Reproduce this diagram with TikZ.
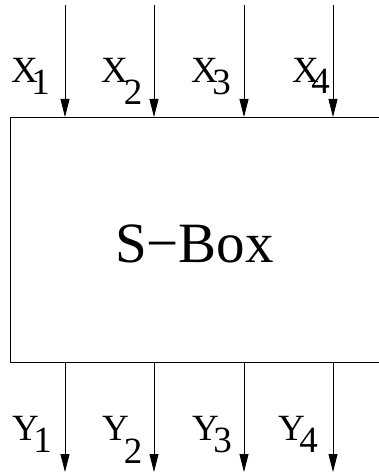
\documentclass[tikz,border=0pt]{standalone}
\usepackage{fontspec}
\setmainfont{Liberation Serif}
\usetikzlibrary{arrows.meta}
\newcommand\sublab[4]{#1\kern#3pt\raisebox{-#4pt}{#2}}
\begin{document}
\begin{tikzpicture}[x=1pt,y=-1pt,
  wire/.style={line width=0.8pt,-{Triangle[length=18pt,width=9pt]}},
  lab/.style={anchor=base west,inner sep=0pt,font=\fontsize{37}{40}\selectfont},
  boxline/.style={line width=0.8pt}]
\useasboundingbox (0,0) rectangle (379,476);
% box
\coordinate (bl) at (10,362);
\coordinate (tl) at (10,117);
\coordinate (tr) at (385,117);
\coordinate (br) at (385,362);
\draw[boxline] (tr) -- (tl) -- (bl) -- (br);
\node[anchor=base,inner sep=0pt,font=\fontsize{57}{60}\selectfont] (sbox) at (194.5,262) {S−Box};
% inputs and outputs
\foreach \i/\x in {1/65,2/154,3/244,4/333}{
  \coordinate (in\i) at (\x,5);
  \coordinate (ti\i) at (\x,117);
  \coordinate (bo\i) at (\x,362);
  \coordinate (out\i) at (\x,472);
  \draw[wire] (in\i) -- (ti\i);
  \draw[wire] (bo\i) -- (out\i);
}
% labels
\node[lab] (x1) at (11,83) {\sublab{X}{1}{-6.5}{12}};
\node[lab] (x2) at (101,83) {\sublab{X}{2}{-4}{22}};
\node[lab] (x3) at (191,83) {\sublab{X}{3}{-5.5}{12}};
\node[lab] (x4) at (292,83) {\sublab{X}{4}{-7.5}{10.5}};
\node[lab] (y1) at (12,440) {\sublab{Y}{1}{-5.5}{12}};
\node[lab] (y2) at (102,440) {\sublab{Y}{2}{-5}{23}};
\node[lab] (y3) at (192,440) {\sublab{Y}{3}{-5.5}{12}};
\node[lab] (y4) at (278,440) {\sublab{Y}{4}{-5.5}{12}};
\end{tikzpicture}
\end{document}
